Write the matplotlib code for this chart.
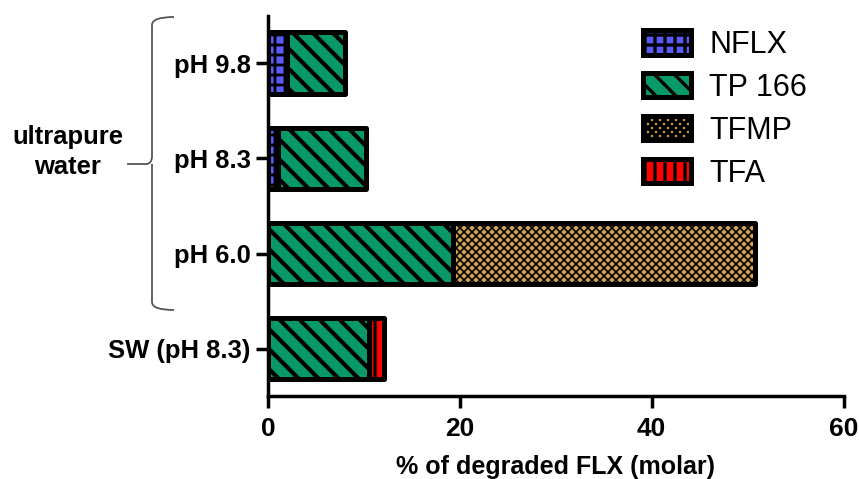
import matplotlib
matplotlib.use("Agg")
import matplotlib.pyplot as plt
from matplotlib.path import Path
from matplotlib.patches import PathPatch, Patch
import numpy as np

plt.rcParams['font.family'] = ['Liberation Sans', 'DejaVu Sans']

categories = ["pH 9.8", "pH 8.3", "pH 6.0", "SW (pH 8.3)"]
series = ["NFLX", "TP 166", "TFMP", "TFA"]
nflx = [2.0, 1.0, 0.0, 0.0]
tp166 = [6.0, 9.2, 19.3, 10.5]
tfmp = [0.0, 0.0, 31.5, 0.0]
tfa = [0.0, 0.0, 0.0, 1.6]
xticks = [0, 20, 40, 60]

colors = ["#5a5af5", "#08996a", "#d2a254", "#ff0000"]
hatches = ["++", "\\\\", "xxxxx", "||"]
hatch_lw = [2.0, 3.0, 1.2, 2.4]

# sizes below are given as if drawn at 100 dpi; k rescales them for the real dpi
DPI = 120
k = 100 / DPI

fig = plt.figure(figsize=(859 / DPI, 479 / DPI), dpi=DPI)
ax = fig.add_axes([0.312, 0.173, 0.670, 0.794])

ypos = np.arange(len(categories))[::-1]
left = np.zeros(len(categories))
handles = []
for name, vals, col, hat, hlw in zip(series, [nflx, tp166, tfmp, tfa], colors, hatches, hatch_lw):
    vals = np.array(vals)
    plt.rcParams['hatch.linewidth'] = hlw * k
    bars = ax.barh(ypos, vals, left=left, height=0.65, color=col, edgecolor="black",
                   linewidth=3.6 * k, hatch=hat, joinstyle="round", zorder=2)
    for b, v in zip(bars, vals):
        if v <= 0:
            b.set_visible(False)
    left = left + vals
    h = Patch(facecolor=col, edgecolor="black", hatch=hat, linewidth=3.6 * k, joinstyle="round")
    handles.append(h)

ax.set_xlim(0, 60)
ax.set_ylim(-0.5, 3.5)
ax.set_xticks(xticks)
ax.set_xticklabels([str(t) for t in xticks], fontsize=19 * k, fontweight="bold")
ax.set_yticks(ypos)
ax.set_yticklabels(categories, fontsize=18.5 * k, fontweight="bold")
ax.tick_params(axis="both", width=2.5 * k, length=8.6 * k, color="black")
ax.tick_params(axis="x", pad=6.5 * k)
ax.tick_params(axis="y", pad=4 * k)
for s in ["top", "right"]:
    ax.spines[s].set_visible(False)
for s in ["left", "bottom"]:
    ax.spines[s].set_linewidth(2.5 * k)
ax.set_xlabel("% of degraded FLX (molar)", fontsize=18 * k, fontweight="bold", labelpad=10 * k)

W, H = fig.get_size_inches() * fig.dpi
def fx(px):
    return px / W
def fy(py):
    return 1 - py / H

leg = fig.legend(handles, series, loc="upper left", bbox_to_anchor=(fx(643), fy(30)),
                 bbox_transform=fig.transFigure,
                 frameon=False, fontsize=22 * k, handlelength=1.57, handleheight=0.85,
                 labelspacing=0.42, handletextpad=0.6, borderpad=0, borderaxespad=0)

# curly brace grouping the ultrapure-water conditions
xb, xe, xt = 152, 174, 128
y0, y1, ym = 17, 310, 164
r = 8
verts = [
    (xe, y0), (xb, y0), (xb, y0 + r),
    (xb, ym - r), (xb, ym), (xt + 18, ym),
    (xb, ym), (xb, ym + r),
    (xb, y1 - r), (xb, y1), (xe, y1),
]
codes = [Path.MOVETO, Path.CURVE3, Path.CURVE3,
         Path.LINETO, Path.CURVE3, Path.CURVE3,
         Path.MOVETO, Path.CURVE3,
         Path.LINETO, Path.CURVE3, Path.CURVE3]
verts = [(fx(a), fy(b)) for a, b in verts]
brace = PathPatch(Path(verts, codes), transform=fig.transFigure, fill=False,
                  edgecolor="#555555", linewidth=1.3 * k)
fig.add_artist(brace)
fig.add_artist(plt.Line2D([fx(xt), fx(xt + 18)], [fy(ym), fy(ym)],
                          transform=fig.transFigure, color="#555555", linewidth=1.3 * k))
fig.text(fx(68), fy(152), "ultrapure\nwater", ha="center", va="center",
         fontsize=18.5 * k, fontweight="bold", linespacing=1.3)

fig.savefig("out.png", dpi=DPI)
